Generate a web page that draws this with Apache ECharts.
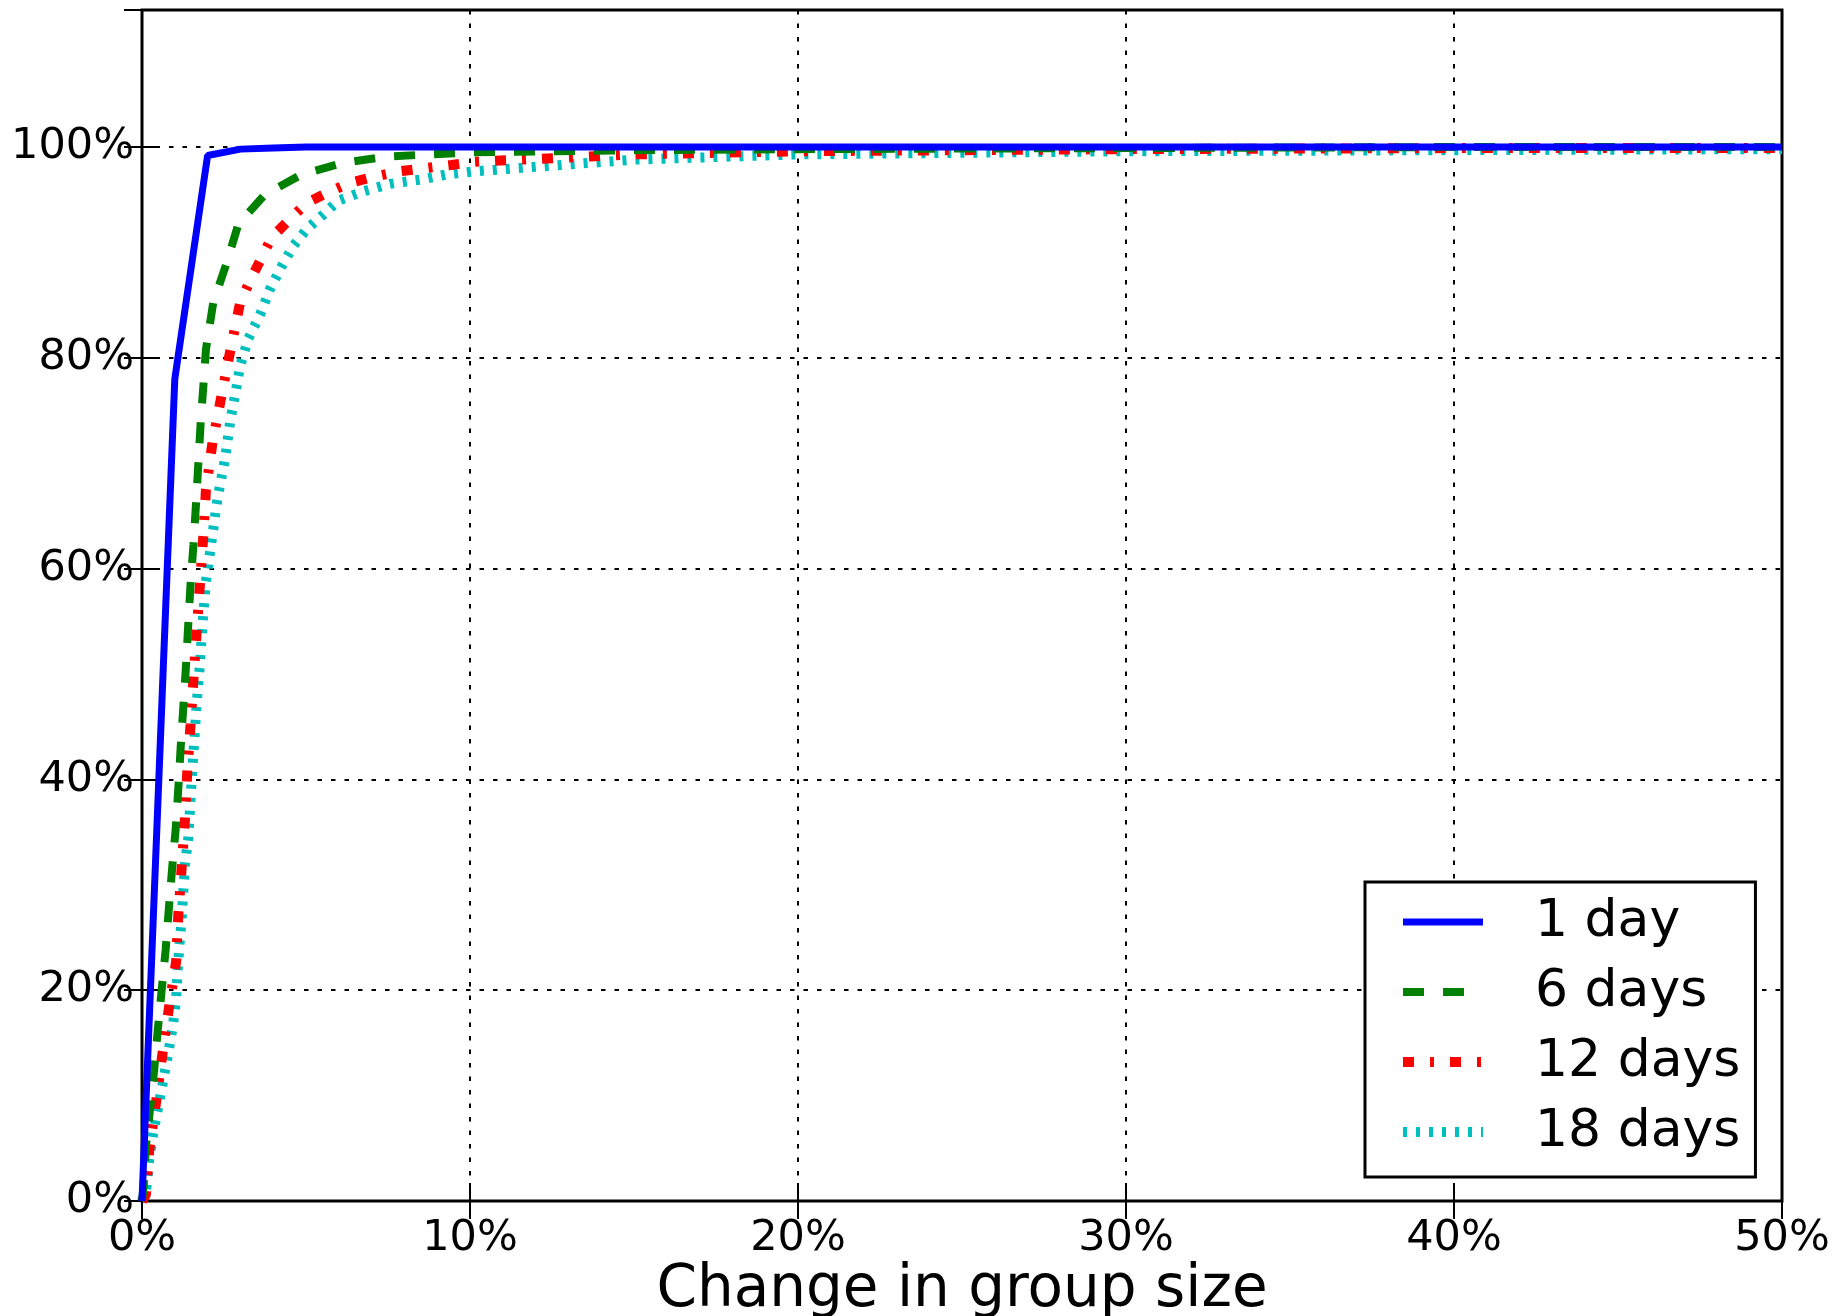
<!DOCTYPE html>
<html>
<head>
<meta charset="utf-8">
<script src="https://cdn.jsdelivr.net/npm/echarts@6/dist/echarts.min.js"></script>
<style>
  html, body { margin: 0; padding: 0; background: #fff; }
  #chart { width: 1837px; height: 1316px; }
</style>
</head>
<body>
<div id="chart"></div>
<script>
// Series names
const seriesNames = ['1 day', '6 days', '12 days', '18 days'];

// Axis ticks
const xTicks = [0, 10, 20, 30, 40, 50];
const yTicks = [0, 20, 40, 60, 80, 100];

// CDF data: [change in group size (%), cumulative share (%)]
const day1 = [
  [0, 0], [1, 78], [2, 99.2], [3, 99.8], [4, 99.9], [5, 100], [10, 100], [20, 100], [30, 100], [40, 100], [50, 100]
];
const days6 = [
  [0, 0], [0.05, 1.4], [0.12, 5.2], [0.24, 8.6], [0.37, 12.4], [0.48, 16.2], [0.60, 20.0],
  [0.72, 23.8], [0.82, 27.8], [0.92, 31.6], [1.03, 35.4], [1.11, 39.3], [1.18, 43.1],
  [1.26, 46.9], [1.34, 50.7], [1.41, 54.7], [1.48, 58.5], [1.57, 62.3], [1.65, 66.3],
  [1.72, 70.1], [1.79, 73.9], [1.87, 77.3], [1.95, 80.8], [2.17, 85.2], [2.58, 89.0],
  [2.94, 92.7], [3.75, 95.5], [4.87, 97.4], [6.14, 98.5], [7.46, 99.1], [8.78, 99.3],
  [10.1, 99.5], [15, 99.7], [20, 99.8], [30, 99.9], [40, 100], [50, 100]
];
const days12 = [
  [0, 0], [0.12, 0.6], [0.22, 4.8], [0.43, 9.4], [0.62, 13.9], [0.83, 18.5], [1.04, 22.7],
  [1.11, 27.3], [1.21, 31.7], [1.31, 36.2], [1.38, 40.7], [1.48, 45.2], [1.57, 49.6],
  [1.67, 54.2], [1.77, 58.7], [1.87, 63.1], [1.95, 67.5], [2.15, 72.0], [2.43, 76.5],
  [2.70, 80.8], [2.99, 85.2], [3.29, 87.3], [3.63, 89.4], [3.95, 91.4], [4.46, 93.0],
  [5.02, 94.7], [5.68, 95.7], [6.34, 96.6], [7.10, 97.2], [7.87, 97.7], [8.63, 98.0],
  [9.44, 98.3], [10.15, 98.6], [15, 99.3], [20, 99.6], [30, 99.8], [40, 99.9], [50, 99.9]
];
const days18 = [
  [0, 0], [0.14, 1.4], [0.22, 3.9], [0.34, 6.4], [0.50, 9.0], [0.65, 11.5], [0.80, 14.0],
  [0.94, 16.6], [1.04, 19.1], [1.08, 21.6], [1.14, 24.2], [1.21, 26.8], [1.26, 29.4],
  [1.31, 31.9], [1.41, 34.4], [1.46, 37.0], [1.51, 39.7], [1.56, 42.2], [1.59, 43.5],
  [1.67, 47.3], [1.77, 51.1], [1.85, 55.0], [1.95, 58.8], [2.12, 62.6], [2.30, 66.6],
  [2.53, 70.4], [2.70, 74.2], [2.88, 77.2], [2.99, 79.2], [3.24, 81.8], [3.60, 84.1],
  [3.90, 86.5], [4.26, 88.7], [4.61, 90.6], [5.02, 92.2], [5.53, 93.6], [5.98, 94.9],
  [6.75, 95.8], [7.56, 96.5], [8.48, 96.9], [9.29, 97.4], [10.15, 97.7], [15, 98.8],
  [20, 99.3], [30, 99.6], [40, 99.7], [50, 99.8]
];

const xTitle = 'Change in group size';

const FONT = 'DejaVu Sans';
const seriesData = [day1, days6, days12, days18];
const colors = ['#0000ff', '#008000', '#ff0000', '#00bfbf'];
const widths = [7, 8, 10, 10];
const dashes = ['solid', [21, 19], [11, 16, 4, 16], [4, 9]];

const chart = echarts.init(document.getElementById('chart'), null, { renderer: 'canvas' });

const gridLine = { show: true, lineStyle: { color: '#000', width: 2, type: [4.5, 9] } };
const tickIn = { show: true, inside: true, length: 18, lineStyle: { color: '#000', width: 2 } };

const option = {
  animation: false,
  backgroundColor: '#fff',
  grid: {
    left: 142, right: 55, top: 10, bottom: 115, containLabel: false, outerBoundsMode: 'none',
    show: true, borderColor: '#000', borderWidth: 3, backgroundColor: 'transparent'
  },
  xAxis: [
    {
      type: 'value', min: xTicks[0], max: xTicks[xTicks.length - 1], interval: 10,
      axisLine: { show: false }, axisTick: tickIn, splitLine: gridLine,
      axisLabel: { color: '#000', fontFamily: FONT, fontSize: 43, margin: 16, formatter: v => v + '%' },
      name: xTitle, nameLocation: 'middle', nameGap: 61, nameMoveOverlap: false,
      nameTextStyle: { color: '#000', fontFamily: FONT, fontSize: 58 }
    },
    {
      type: 'value', position: 'top', min: xTicks[0], max: xTicks[xTicks.length - 1], interval: 10,
      axisLine: { show: false }, axisTick: tickIn, splitLine: { show: false }, axisLabel: { show: false }
    }
  ],
  yAxis: [
    {
      type: 'value', min: yTicks[0], max: 113, interval: 20,
      axisLine: { show: false }, axisTick: tickIn, splitLine: gridLine,
      axisLabel: { color: '#000', fontFamily: FONT, fontSize: 43, margin: 8, showMaxLabel: false, formatter: v => v + '%' }
    },
    {
      type: 'value', position: 'right', min: yTicks[0], max: 113, interval: 20,
      axisLine: { show: false }, axisTick: tickIn, splitLine: { show: false }, axisLabel: { show: false }
    }
  ],
  legend: {
    orient: 'vertical', left: 1365, top: 882,
    padding: [12, 15, 17, 33], itemGap: 14, itemWidth: 80, itemHeight: 14,
    backgroundColor: '#fff', borderColor: '#000', borderWidth: 3,
    itemStyle: { opacity: 0, borderWidth: 0 },
    textStyle: { color: '#000', fontFamily: FONT, fontSize: 52, lineHeight: 56, padding: [0, 0, 0, 47] },
    data: seriesNames.map((n, i) => ({
      name: n,
      lineStyle: { width: widths[i], color: colors[i], type: dashes[i] }
    }))
  },
  series: seriesNames.map((n, i) => ({
    name: n, type: 'line', xAxisIndex: 0, yAxisIndex: 0,
    data: seriesData[i], symbol: 'none', smooth: false,
    lineStyle: { color: colors[i], width: widths[i], type: dashes[i], cap: 'butt' },
    itemStyle: { color: colors[i] },
    z: 10 - i
  }))
};

chart.setOption(option);
</script>
</body>
</html>
